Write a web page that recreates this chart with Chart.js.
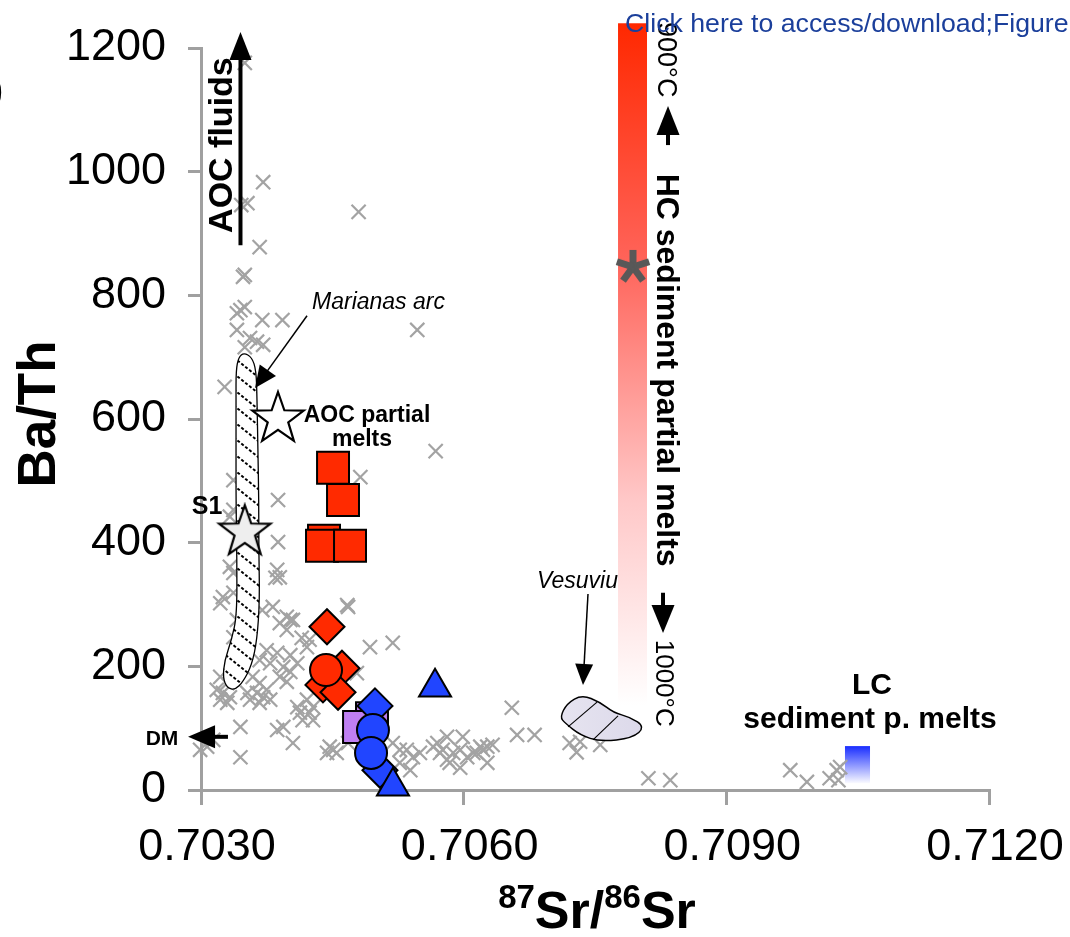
<!DOCTYPE html>
<html><head><meta charset="utf-8">
<script src="https://cdn.jsdelivr.net/npm/chart.js@4.4.1/dist/chart.umd.min.js"></script>
<style>html,body{margin:0;padding:0;background:#fff;overflow:hidden}#wrap{width:1070px;height:937px;position:relative}</style>
</head><body><div id="wrap"><canvas id="c" width="1070" height="937"></canvas></div>
<script>
const F = '"Liberation Sans", Arial, Helvetica, sans-serif';

// ---- axes ----
const xTickValues = [0.7030, 0.7060, 0.7090, 0.7120];
const xTickLabels = ['0.7030', '0.7060', '0.7090', '0.7120'];
const yTickValues = [0, 200, 400, 600, 800, 1000, 1200];
const yTickLabels = ['0', '200', '400', '600', '800', '1000', '1200'];

// ---- literature arc data (grey crosses) ----
const litSr = [0.70350,0.70371,0.70353,0.70346,0.70480,0.70367,0.70348,0.70350,0.70345,0.70350,
0.70341,0.70370,0.70393,0.70341,0.70356,0.70364,0.70371,0.70350,0.70547,0.70327,
0.70388,0.70337,0.70337,0.70333,0.70388,0.70333,0.70337,0.70387,0.70390,0.70385,
0.70325,0.70337,0.70382,0.70398,0.70405,0.70468,0.70482,0.70568,0.70370,0.70341,
0.70322,0.70467,0.70390,0.70402,0.70398,0.70415,0.70424,0.70421,0.70493,0.70519,
0.70337,0.70375,0.70387,0.70367,0.70379,0.70402,0.70410,0.70394,0.70402,0.70390,
0.70398,0.70322,0.70330,0.70318,0.70325,0.70333,0.70330,0.70322,0.70359,0.70367,
0.70375,0.70364,0.70371,0.70379,0.70367,0.70356,0.70353,0.70421,0.70428,0.70413,
0.70424,0.70416,0.70428,0.70410,0.70387,0.70394,0.70478,0.70345,0.70307,0.70314,
0.70299,0.70345,0.70405,0.70447,0.70455,0.70444,0.70451,0.70468,0.70535,0.70542,
0.70550,0.70565,0.70573,0.70581,0.70596,0.70604,0.70611,0.70599,0.70581,0.70527,
0.70539,0.70519,0.70527,0.70570,0.70576,0.70584,0.70588,0.70615,0.70619,0.70622,
0.70627,0.70633,0.70627,0.70596,0.70655,0.70661,0.70681,0.70721,0.70733,0.70729,
0.70756,0.70811,0.70836,0.70973,0.70992,0.71018,0.71026,0.71030,0.71028];
const litBaTh = [1176,983,949,946,935,878,830,833,776,781,
771,760,760,744,731,725,720,716,744,652,
469,501,453,442,401,361,351,356,344,343,
312,319,296,280,275,296,506,548,291,275,
302,299,270,275,259,246,243,231,231,238,
247,226,222,210,205,218,205,199,191,183,
175,183,173,162,157,150,141,146,183,173,
162,157,150,146,141,146,157,146,134,125,
125,113,113,134,97,102,189,102,70,81,
65,53,76,70,60,60,65,76,65,53,
60,70,60,49,65,53,60,86,86,44,
32,76,65,76,65,44,60,60,70,65,
70,73,44,36,133,89,89,76,78,61,
73,19,16,32,13,19,32,37,16];

// ---- this study ----
const redSquareSr = [0.704508, 0.704622, 0.704405, 0.704382, 0.704702];
const redSquareBaTh = [521, 469, 403, 395, 395];
const redDiamondSr = [0.704439, 0.704610, 0.704393, 0.704565];
const redDiamondBaTh = [264, 197, 170, 158];
const redCircleSr = [0.704428];
const redCircleBaTh = [194];
const purpleSquareSr = [0.704953, 0.704805];
const purpleSquareBaTh = [116, 102];
const blueDiamondSr = [0.704987, 0.705044];
const blueDiamondBaTh = [136, 32];
const blueCircleSr = [0.704964, 0.704942];
const blueCircleBaTh = [97, 60];
const blueTriangleSr = [0.705193, 0.705673];
const blueTriangleBaTh = [6, 166];

// ---- end-members ----
const aocMeltSr = [0.703879];   const aocMeltBaTh = [600];
const s1Sr = [0.703500];        const s1BaTh = [417];
const hcSedSr = [0.707934];     const hcSedBaTh = [846];

// ---- fields & bars (data units) ----
const marianasSr = [0.70349,0.70358,0.70363,0.70364,0.70365,0.70366,0.70366,0.70367,0.70364,0.70358,0.70348,0.70339,0.70330,0.70325,0.70327,0.70335,0.70341,0.70341,0.70340,0.70340,0.70340,0.70340,0.70343];
const marianasBaTh = [707,700,679,631,550,469,388,307,243,202,175,162,165,181,210,243,283,372,469,550,631,679,700];
const vesuviusSr = [0.70710,0.70718,0.70735,0.70756,0.70771,0.70790,0.70807,0.70793,0.70756,0.70733,0.70716];
const vesuviusBaTh = [118,140,154,142,125,118,102,84,78,89,108];
const vesuviusLineSr = [[0.707523,0.707192],[0.707763,0.707477]];
const vesuviusLineBaTh = [[142,102],[120,81]];
const hcBarSr = [0.707763, 0.708094];
const hcBarBaTh = [137, 1240];
const lcBarSr = [0.710355, 0.710641];
const lcBarBaTh = [11, 71];

const RED = '#ff2a00', BLUE = '#2145ff', PURPLE = '#bf7ff2', GREY = '#a3a3a3';

function starCanvas(R, fill) {
  const s = Math.ceil(2 * R + 6), c = document.createElement('canvas');
  c.width = s; c.height = s;
  const g = c.getContext('2d'), r = R * 0.40;
  g.beginPath();
  for (let i = 0; i < 10; i++) {
    const a = -Math.PI / 2 + i * Math.PI / 5, rr = i % 2 ? r : R;
    g.lineTo(s / 2 + rr * Math.cos(a), s / 2 + rr * Math.sin(a));
  }
  g.closePath(); g.fillStyle = fill; g.fill();
  g.lineWidth = 2.2; g.strokeStyle = '#000'; g.lineJoin = 'miter'; g.stroke();
  return c;
}
function asteriskCanvas() {
  const s = 40, c = document.createElement('canvas');
  c.width = s; c.height = s;
  const g = c.getContext('2d');
  g.strokeStyle = '#585858'; g.lineWidth = 7; g.lineCap = 'butt';
  for (let i = 0; i < 5; i++) {
    const a = -Math.PI / 2 + i * 2 * Math.PI / 5;
    g.beginPath(); g.moveTo(s / 2, s / 2);
    g.lineTo(s / 2 + 17 * Math.cos(a), s / 2 + 17 * Math.sin(a)); g.stroke();
  }
  return c;
}

function pts(xs, ys) { return xs.map((x, i) => ({ x: x, y: ys[i] })); }
function ds(label, xs, ys, style, radius, fill, extra) {
  return Object.assign({
    label: label, data: pts(xs, ys), pointStyle: style, pointRadius: radius,
    backgroundColor: fill, borderColor: '#000', borderWidth: 2, clip: false
  }, extra || {});
}

const datasets = [
  ds('AOC partial melts', aocMeltSr, aocMeltBaTh, starCanvas(27, '#ffffff'), 27, '#fff'),
  ds('S1', s1Sr, s1BaTh, starCanvas(27, '#eeeeee'), 27, '#eee'),
  ds('HC sediment', hcSedSr, hcSedBaTh, asteriskCanvas(), 20, '#585858'),
  ds('blue triangles', blueTriangleSr, blueTriangleBaTh, 'triangle', 18.5, BLUE),
  ds('blue circles', blueCircleSr, blueCircleBaTh, 'circle', 16, BLUE),
  ds('blue diamonds', blueDiamondSr, blueDiamondBaTh, 'rectRot', 17.5, BLUE),
  ds('purple squares', purpleSquareSr, purpleSquareBaTh, 'rect', 22.6, PURPLE),
  ds('red circle', redCircleSr, redCircleBaTh, 'circle', 16, RED),
  ds('red diamonds', redDiamondSr, redDiamondBaTh, 'rectRot', 17.5, RED),
  ds('red squares', redSquareSr, redSquareBaTh, 'rect', 22.6, RED),
  ds('arc lavas', litSr, litBaTh, 'crossRot', 10, GREY, { borderColor: GREY, borderWidth: 2.2 })
];
const LIT_INDEX = datasets.length - 1;

function P(chart, sr, v) { return [chart.scales.x.getPixelForValue(sr), chart.scales.y.getPixelForValue(v)]; }
function arrow(ctx, a, b, headLen, headHalf, stemW) {
  const dx = b[0] - a[0], dy = b[1] - a[1], L = Math.hypot(dx, dy), ux = dx / L, uy = dy / L;
  const bx = b[0] - ux * headLen, by = b[1] - uy * headLen;
  ctx.save(); ctx.strokeStyle = '#000'; ctx.fillStyle = '#000'; ctx.lineWidth = stemW;
  ctx.beginPath(); ctx.moveTo(a[0], a[1]); ctx.lineTo(bx + ux * 2, by + uy * 2); ctx.stroke();
  ctx.beginPath(); ctx.moveTo(b[0], b[1]);
  ctx.lineTo(bx - uy * headHalf, by + ux * headHalf); ctx.lineTo(bx + uy * headHalf, by - ux * headHalf);
  ctx.closePath(); ctx.fill(); ctx.restore();
}
function smoothPath(ctx, p) {
  const n = p.length, mid = i => [(p[i][0] + p[(i + 1) % n][0]) / 2, (p[i][1] + p[(i + 1) % n][1]) / 2];
  ctx.beginPath(); const m = mid(n - 1); ctx.moveTo(m[0], m[1]);
  for (let i = 0; i < n; i++) { const q = mid(i); ctx.quadraticCurveTo(p[i][0], p[i][1], q[0], q[1]); }
  ctx.closePath();
}
function txt(ctx, s, x, y, font, align, rot, color) {
  ctx.save(); ctx.translate(x, y); if (rot) ctx.rotate(rot);
  ctx.font = font; ctx.textAlign = align || 'left'; ctx.textBaseline = 'alphabetic';
  ctx.fillStyle = color || '#000'; ctx.fillText(s, 0, 0); ctx.restore();
}

const annot = {
  id: 'annot',
  beforeDatasetsDraw(chart) {
    const ctx = chart.ctx;
    let p = P(chart, 0.706837, 327);
    txt(ctx, 'Vesuvius', p[0], p[1], 'italic 23px ' + F, 'left');
    const a = P(chart, hcBarSr[0], hcBarBaTh[1]), b = P(chart, hcBarSr[1], hcBarBaTh[0]);
    let g = ctx.createLinearGradient(0, a[1], 0, b[1]);
    g.addColorStop(0, 'rgb(255,40,0)'); g.addColorStop(0.35, 'rgb(255,100,90)');
    g.addColorStop(0.7, 'rgb(255,200,200)'); g.addColorStop(1, 'rgb(255,255,255)');
    ctx.fillStyle = g; ctx.fillRect(a[0], a[1], b[0] - a[0], b[1] - a[1]);
    const c = P(chart, lcBarSr[0], lcBarBaTh[1]), d = P(chart, lcBarSr[1], lcBarBaTh[0]);
    g = ctx.createLinearGradient(0, c[1], 0, d[1]);
    g.addColorStop(0, 'rgb(25,45,255)'); g.addColorStop(1, 'rgb(250,250,255)');
    ctx.fillStyle = g; ctx.fillRect(c[0], c[1], d[0] - c[0], d[1] - c[1]);
  },
  afterDatasetDraw(chart, args) {
    if (args.index !== LIT_INDEX) return;
    const ctx = chart.ctx;
    const mp = marianasSr.map((s, i) => P(chart, s, marianasBaTh[i]));
    ctx.save(); smoothPath(ctx, mp); ctx.fillStyle = '#fff'; ctx.fill();
    ctx.clip();
    ctx.strokeStyle = '#000'; ctx.lineWidth = 2; ctx.setLineDash([3, 2]);
    const top = Math.min(...mp.map(q => q[1])) - 40, bot = Math.max(...mp.map(q => q[1])) + 10;
    const x0 = Math.min(...mp.map(q => q[0])) - 5, x1 = Math.max(...mp.map(q => q[0])) + 5;
    for (let y = top; y < bot; y += 16) {
      ctx.beginPath(); ctx.moveTo(x0, y); ctx.lineTo(x1, y + (x1 - x0) * 0.8); ctx.stroke();
    }
    ctx.restore();
    ctx.save(); smoothPath(ctx, mp); ctx.strokeStyle = '#000'; ctx.lineWidth = 1.3; ctx.stroke(); ctx.restore();
    const vp = vesuviusSr.map((s, i) => P(chart, s, vesuviusBaTh[i]));
    ctx.save(); smoothPath(ctx, vp);
    const g = ctx.createLinearGradient(vp[0][0], 0, vp[6][0], 0);
    g.addColorStop(0, '#e6e4f0'); g.addColorStop(1, '#dcd9ea');
    ctx.fillStyle = g; ctx.fill(); ctx.strokeStyle = '#000'; ctx.lineWidth = 1.5; ctx.stroke();
    ctx.lineWidth = 1.1;
    vesuviusLineSr.forEach((ls, i) => {
      const a = P(chart, ls[0], vesuviusLineBaTh[i][0]), b = P(chart, ls[1], vesuviusLineBaTh[i][1]);
      ctx.beginPath(); ctx.moveTo(a[0], a[1]); ctx.lineTo(b[0], b[1]); ctx.stroke();
    });
    ctx.restore();
  },
  afterDatasetsDraw(chart) {
    const ctx = chart.ctx;
    arrow(ctx, P(chart, 0.703451, 881), P(chart, 0.703451, 1226), 28, 11, 4);
    let p = P(chart, 0.703354, 1043);
    txt(ctx, 'AOC fluids', p[0], p[1], 'bold 34px ' + F, 'center', -Math.PI / 2);
    p = P(chart, 0.704268, 778);
    txt(ctx, 'Marianas arc', p[0], p[1], 'italic 23px ' + F, 'left');
    arrow(ctx, P(chart, 0.704211, 767), P(chart, 0.703617, 650), 22, 10, 1.5);
    arrow(ctx, P(chart, 0.707420, 317), P(chart, 0.707363, 170), 21, 9, 1.5);
    p = P(chart, 0.704896, 595); txt(ctx, 'AOC partial', p[0], p[1], 'bold 23px ' + F, 'center');
    p = P(chart, 0.704839, 556); txt(ctx, 'melts', p[0], p[1], 'bold 23px ' + F, 'center');
    p = P(chart, 0.703069, 447); txt(ctx, 'S1', p[0], p[1], 'bold 25px ' + F, 'center');
    p = P(chart, 0.702555, 73); txt(ctx, 'DM', p[0], p[1], 'bold 21px ' + F, 'center');
    arrow(ctx, P(chart, 0.703308, 86), P(chart, 0.702852, 86), 27, 11.5, 4);
    p = P(chart, 0.708220, 1242); txt(ctx, '900°C', p[0], p[1], '27px ' + F, 'left', Math.PI / 2);
    arrow(ctx, P(chart, 0.708334, 1043), P(chart, 0.708334, 1106), 29, 11.5, 4);
    p = P(chart, 0.708208, 679); txt(ctx, 'HC sediment partial melts', p[0], p[1], 'bold 32px ' + F, 'center', Math.PI / 2);
    arrow(ctx, P(chart, 0.708277, 319), P(chart, 0.708277, 254), 28, 11.5, 4);
    p = P(chart, 0.708197, 243); txt(ctx, '1000°C', p[0], p[1], '26px ' + F, 'left', Math.PI / 2);
    p = P(chart, 0.710664, 155); txt(ctx, 'LC', p[0], p[1], 'bold 30px ' + F, 'center');
    p = P(chart, 0.710641, 100); txt(ctx, 'sediment p. melts', p[0], p[1], 'bold 30px ' + F, 'center');
  },
  afterDraw(chart) {
    const ctx = chart.ctx;
    ctx.save();
    ctx.translate(55, 414); ctx.rotate(-Math.PI / 2);
    ctx.font = 'bold 53px ' + F; ctx.textAlign = 'center'; ctx.fillStyle = '#000';
    ctx.fillText('Ba/Th', 0, 0);
    ctx.restore();
    ctx.save(); ctx.fillStyle = '#000';
    const big = 'bold 52px ' + F, sup = 'bold 33px ' + F;
    const parts = [['87', sup], ['Sr/', big], ['86', sup], ['Sr', big]];
    let w = 0; parts.forEach(q => { ctx.font = q[1]; w += ctx.measureText(q[0]).width; });
    let x = 597 - w / 2;
    parts.forEach(q => { ctx.font = q[1]; ctx.fillText(q[0], x, q[1] === sup ? 908 : 928); x += ctx.measureText(q[0]).width; });
    ctx.restore();
    let p = P(chart, 0.707843, 1226);
    txt(ctx, 'Click here to access/download;Figure', p[0], p[1], '26.7px ' + F, 'left', 0, '#1b3f9b');
    txt(ctx, ')', 4, 104, '45px ' + F, 'right');
  }
};

new Chart(document.getElementById('c'), {
  type: 'scatter',
  data: { datasets: datasets },
  options: {
    responsive: false, animation: false, events: [],
    layout: { padding: { left: 0, top: 48, right: 81, bottom: 0 } },
    plugins: { legend: { display: false }, tooltip: { enabled: false } },
    scales: {
      x: {
        type: 'linear', min: xTickValues[0], max: xTickValues[xTickValues.length - 1],
        afterBuildTicks: s => { s.ticks = xTickValues.map(v => ({ value: v })); },
        afterFit: s => { s.height = 147; s.paddingLeft = 0; s.paddingRight = 0; },
        ticks: { callback: (v, i) => xTickLabels[i], font: { family: F, size: 45 }, color: '#000', padding: 16, labelOffset: 6, maxRotation: 0, autoSkip: false },
        grid: { drawOnChartArea: false, drawTicks: true, tickLength: 15, color: '#a0a0a0', lineWidth: 3 },
        border: { display: true, color: '#a0a0a0', width: 3 }
      },
      y: {
        type: 'linear', min: yTickValues[0], max: yTickValues[yTickValues.length - 1],
        afterBuildTicks: s => { s.ticks = yTickValues.map(v => ({ value: v })); },
        afterFit: s => { s.width = 201; s.paddingTop = 0; s.paddingBottom = 0; },
        ticks: { callback: (v, i) => yTickLabels[i], font: { family: F, size: 45 }, color: '#000', padding: 22, autoSkip: false },
        grid: { drawOnChartArea: false, drawTicks: true, tickLength: 13, color: '#a0a0a0', lineWidth: 3 },
        border: { display: true, color: '#a0a0a0', width: 3 }
      }
    }
  },
  plugins: [annot]
});
</script></body></html>
